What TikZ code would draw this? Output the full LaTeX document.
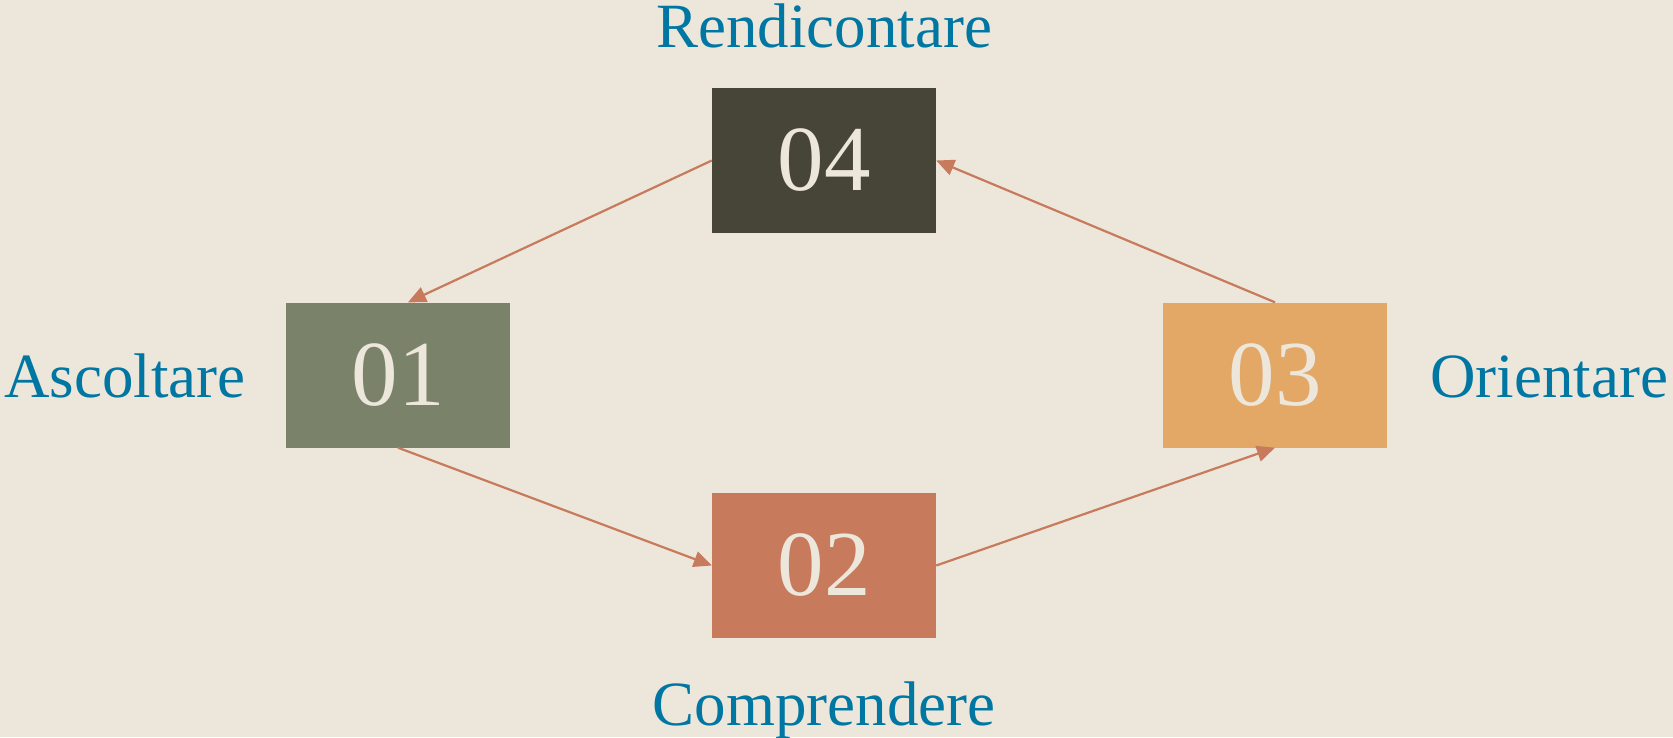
\documentclass[tikz,border=0pt]{standalone}
\usepackage{fontspec}
\setmainfont{Liberation Serif}
\usetikzlibrary{arrows.meta}
\definecolor{bgc}{HTML}{ECE6DB}
\definecolor{darkc}{HTML}{474438}
\definecolor{greenc}{HTML}{7A8269}
\definecolor{terrac}{HTML}{C87A5C}
\definecolor{orangec}{HTML}{E3A766}
\definecolor{bluec}{HTML}{0077A3}
\tikzset{
  stepbox/.style={rectangle, minimum width=224pt, minimum height=145pt, inner sep=0pt, text=bgc, font=\fontsize{93}{93}\selectfont},
  lbl/.style={text=bluec, anchor=base, inner sep=0pt, font=\fontsize{63}{63}\selectfont},
  conn/.style={draw=terrac, line width=2.2pt, -{Triangle[length=18pt,width=16pt]}}
}
\begin{document}
\begin{tikzpicture}[x=1pt,y=-1pt]
\fill[bgc] (0,0) rectangle (1673,737);
\useasboundingbox (0,0) rectangle (1673,737);
\node[stepbox, fill=greenc] (b1) at (398,375) {01};
\node[stepbox, fill=terrac] (b2) at (824,565.5) {02};
\node[stepbox, fill=orangec] (b3) at (1275,375) {03};
\node[stepbox, fill=darkc] (b4) at (824,160.5) {04};
\node[lbl] (l4) at (824,47) {Rendicontare};
\node[lbl] (l1) at (125,397) {Ascoltare};
\node[lbl] (l3) at (1549,397) {Orientare};
\node[lbl] (l2) at (824,725) {Comprendere};
\draw[conn] (b1.south) -- (b2.west);
\draw[conn] (b2.east) -- (b3.south);
\draw[conn] (b3.north) -- (b4.east);
\draw[conn] (b4.west) -- ([xshift=10pt]b1.north);
\end{tikzpicture}
\end{document}
